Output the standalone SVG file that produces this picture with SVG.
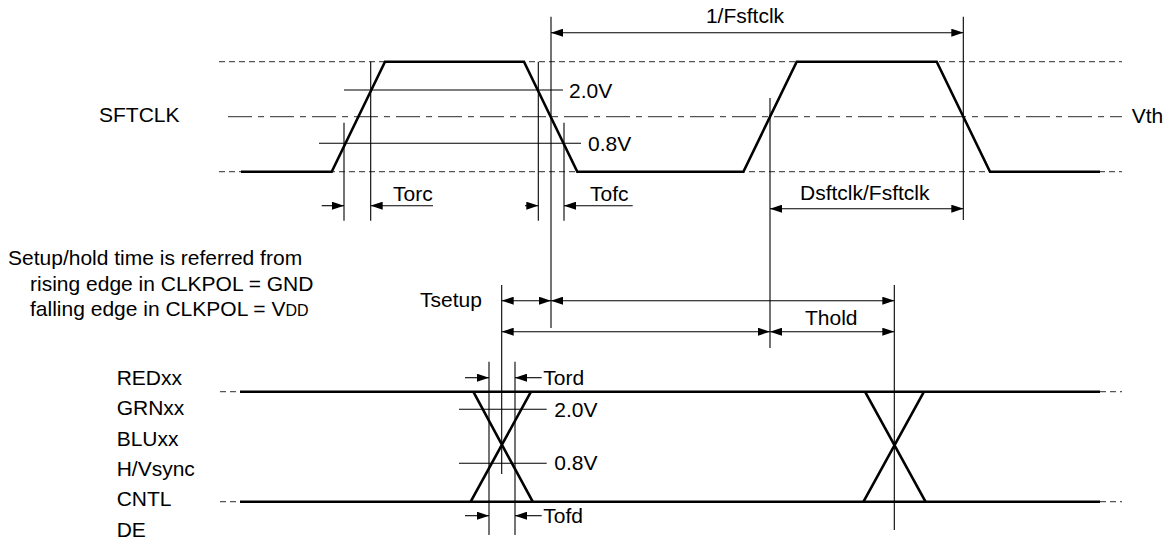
<svg xmlns="http://www.w3.org/2000/svg" width="1173" height="545" viewBox="0 0 1173 545">
<defs>
<style>
text{font-family:"Liberation Sans",Arial,sans-serif;font-size:21px;fill:#000}
.wave{fill:none;stroke:#000;stroke-width:2.6;stroke-linejoin:miter}
.thin{fill:none;stroke:#000;stroke-width:1.1}
.dash{fill:none;stroke:#555;stroke-width:1.2;stroke-dasharray:6 4}
.dashdot{fill:none;stroke:#555;stroke-width:1.2;stroke-dasharray:24 6 6 6}
.dim{fill:none;stroke:#000;stroke-width:1.1}
.dbl{marker-start:url(#ah);marker-end:url(#ah)}
.one{marker-end:url(#ah)}
</style>
<marker id="ah" viewBox="0 0 12 8" refX="12" refY="4" markerWidth="12" markerHeight="8" markerUnits="userSpaceOnUse" orient="auto-start-reverse">
<path d="M0,0 L12,4 L0,8 z" fill="#000"/>
</marker>
</defs>
<rect width="1173" height="545" fill="#fff"/>

<g id="sftclk">
<line class="dash" x1="219" y1="61.7" x2="1122" y2="61.7"/>
<line class="dashdot" x1="228" y1="116.7" x2="1122" y2="116.7"/>
<line class="dash" x1="219" y1="171.7" x2="1122" y2="171.7"/>
<path class="wave" d="M241,171.7 L331.7,171.7 L385,61.7 L524,61.7 L577.3,171.7 L743.4,171.7 L796.7,61.7 L936.7,61.7 L990,171.7 L1100,171.7"/>
<line class="thin" x1="344" y1="90" x2="563" y2="90"/>
<line class="thin" x1="319" y1="143.3" x2="581" y2="143.3"/>
<text x="99" y="121.7">SFTCLK</text>
<text x="569" y="98.3">2.0V</text>
<text x="588" y="150.7">0.8V</text>
<text x="1131.7" y="123.3">Vth</text>
</g>

<g id="data">
<line class="dash" x1="220" y1="391.7" x2="240" y2="391.7"/>
<line class="dash" x1="220" y1="501.7" x2="240" y2="501.7"/>
<line class="dash" x1="1100" y1="391.7" x2="1122" y2="391.7"/>
<line class="dash" x1="1100" y1="501.7" x2="1122" y2="501.7"/>
<line class="wave" x1="240" y1="391.7" x2="1100" y2="391.7"/>
<line class="wave" x1="240" y1="501.7" x2="1100" y2="501.7"/>
<path class="wave" d="M473.3,391.7 L532.7,501.7 M470.7,501.7 L531,391.7"/>
<path class="wave" d="M865,391.7 L925.5,501.7 M863.5,501.7 L924,391.7"/>
<line class="thin" x1="459" y1="409.3" x2="546.7" y2="409.3"/>
<line class="thin" x1="459" y1="463.3" x2="546.7" y2="463.3"/>
<text x="116.7" y="385">REDxx</text>
<text x="116.7" y="415.3">GRNxx</text>
<text x="116.7" y="445.6">BLUxx</text>
<text x="116.7" y="476">H/Vsync</text>
<text x="116.7" y="506.3">CNTL</text>
<text x="116.7" y="536.6">DE</text>
<text x="554.3" y="417.3">2.0V</text>
<text x="554.3" y="470">0.8V</text>
</g>

<g id="note">
<text x="8" y="265">Setup/hold time is referred from</text>
<text x="30" y="290.5">rising edge in CLKPOL = GND</text>
<text x="30" y="316">falling edge in CLKPOL = V<tspan font-size="16">DD</tspan></text>
</g>

<g id="connectors">
<line class="thin" x1="344" y1="122.7" x2="344" y2="220.7"/>
<line class="thin" x1="370.7" y1="61.7" x2="370.7" y2="220.7"/>
<line class="thin" x1="538.3" y1="61.7" x2="538.3" y2="220.7"/>
<line class="thin" x1="551" y1="16.7" x2="551" y2="328"/>
<line class="thin" x1="564" y1="122.7" x2="564" y2="220.7"/>
<line class="thin" x1="770" y1="98" x2="770" y2="348"/>
<line class="thin" x1="963.3" y1="16.7" x2="963.3" y2="220"/>
<line class="thin" x1="501.7" y1="285" x2="501.7" y2="474"/>
<line class="thin" x1="894.3" y1="285" x2="894.3" y2="530"/>
<line class="thin" x1="489" y1="361.7" x2="489" y2="535"/>
<line class="thin" x1="515" y1="361.7" x2="515" y2="535"/>

<line class="dim dbl" x1="551" y1="32.7" x2="963.3" y2="32.7"/>
<line class="dim one" x1="321.7" y1="205.7" x2="344" y2="205.7"/>
<line class="dim one" x1="433" y1="205.7" x2="370.7" y2="205.7"/>
<line class="dim one" x1="525" y1="205.7" x2="538.3" y2="205.7"/>
<line class="dim one" x1="632.7" y1="205.7" x2="564" y2="205.7"/>
<line class="dim dbl" x1="770" y1="208.7" x2="963.3" y2="208.7"/>
<line class="dim dbl" x1="501.7" y1="300.7" x2="551" y2="300.7"/>
<line class="dim dbl" x1="551" y1="300.7" x2="894.3" y2="300.7"/>
<line class="dim dbl" x1="501.7" y1="331.7" x2="770" y2="331.7"/>
<line class="dim dbl" x1="770" y1="331.7" x2="894.3" y2="331.7"/>
<line class="dim one" x1="465" y1="377.7" x2="489" y2="377.7"/>
<line class="dim one" x1="541.7" y1="377.7" x2="515" y2="377.7"/>
<line class="dim one" x1="465" y1="515.7" x2="489" y2="515.7"/>
<line class="dim one" x1="541.7" y1="515.7" x2="515" y2="515.7"/>
</g>

<g id="dimension-labels">
<text x="745" y="23" text-anchor="middle">1/Fsftclk</text>
<text x="393" y="200.7">Torc</text>
<text x="590" y="200.7">Tofc</text>
<text x="800" y="200">Dsftclk/Fsftclk</text>
<text x="420" y="306.7">Tsetup</text>
<text x="805" y="325">Thold</text>
<text x="543.3" y="385">Tord</text>
<text x="543.3" y="523.3">Tofd</text>
</g>
</svg>
